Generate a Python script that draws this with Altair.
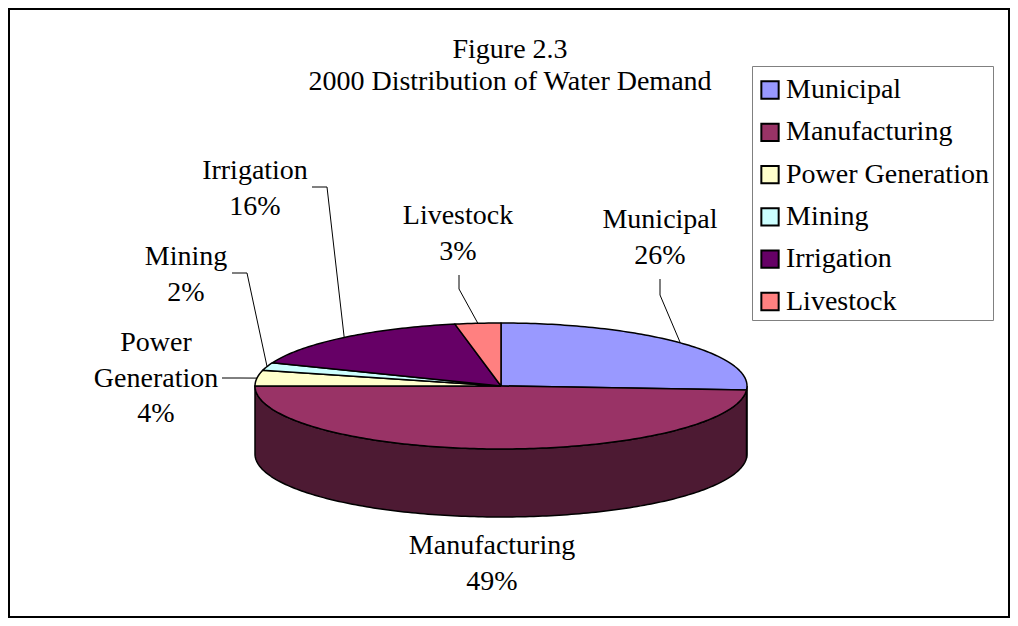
import altair as alt
import numpy as np
import pandas as pd

# ---------------- data ----------------
categories = ["Municipal", "Manufacturing", "Power Generation", "Mining", "Irrigation", "Livestock"]
shares = [26, 49, 4, 2, 16, 3]
top_colors = ["#9999FF", "#993366", "#FFFFCC", "#CCFFFF", "#660066", "#FF8080"]
side_colors = ["#4D4D80", "#4D1A33", "#80806A", "#6A8080", "#330033", "#804040"]
title_lines = ["Figure 2.3", "2000 Distribution of Water Demand"]

# ---------------- layout (page pixels) ----------------
CX, CY, RX, RY, DEPTH = 501, 386, 246, 63, 68
FONT = "Liberation Serif"
FS = 28
LH = 35.5
W, H = 1002, 610
TITLE_X, TITLE_Y, TITLE_LH = 510, 58, 32
label_pos = {  # label centre x, first baseline y
    "Municipal": (660, 228),
    "Manufacturing": (492, 554),
    "Power Generation": (156, 351),
    "Mining": (186, 265),
    "Irrigation": (255, 179),
    "Livestock": (458, 224),
}
leader_route = {  # start and elbow of the leader line; it ends on the slice edge
    "Municipal": [(660, 279), (660, 295)],
    "Power Generation": [(222, 378), (240, 378)],
    "Mining": [(232, 273), (247, 273)],
    "Irrigation": [(312, 187), (327, 187)],
    "Livestock": [(459, 275), (459, 289)],
}


def ell(deg, dz=0.0):
    t = np.radians(deg)
    return float(CX + RX * np.sin(t)), float(CY - RY * np.cos(t) + dz)


def arc(a, b, dz=0.0):
    n = max(2, int(np.ceil(abs(b - a))) + 1)
    return [ell(d, dz) for d in np.linspace(a, b, n)]


total = float(sum(shares))
bounds = np.concatenate([[0.0], np.cumsum(shares)]) * 360.0 / total

top_rows, side_rows, lead_rows, label_rows = [], [], [], []
for i, cat in enumerate(categories):
    a, b = bounds[i], bounds[i + 1]
    pts = [(CX, CY)] + arc(a, b) + [(CX, CY)]
    for k, (x, y) in enumerate(pts):
        top_rows.append(dict(poly=cat, k=k, x=x, y=y, cat=cat))
    s1, s2 = max(a, 90.0), min(b, 270.0)
    if s2 > s1:
        pts = arc(s1, s2) + arc(s2, s1, DEPTH)
        pts.append(pts[0])
        for k, (x, y) in enumerate(pts):
            side_rows.append(dict(poly=cat, k=k, x=x, y=y, fill=side_colors[i]))
    if cat in leader_route:
        pts = leader_route[cat] + [ell((a + b) / 2.0)]
        for k, (x, y) in enumerate(pts):
            lead_rows.append(dict(poly=cat, k=k, x=x, y=y))
    lx, ly = label_pos[cat]
    label_rows.append(dict(x=lx, y=ly, text="\n".join(cat.split(" ") + [f"{shares[i]}%"])))

title_rows = [dict(x=TITLE_X, y=TITLE_Y + j * TITLE_LH, text=t) for j, t in enumerate(title_lines)]

X = alt.X("x:Q", scale=alt.Scale(domain=[8, 8 + W], nice=False, zero=False), axis=None)
Y = alt.Y("y:Q", scale=alt.Scale(domain=[8, 8 + H], nice=False, zero=False, reverse=True), axis=None)

sides = alt.Chart(pd.DataFrame(side_rows)).mark_line(
    filled=True, stroke="black", strokeWidth=1.5, strokeJoin="round"
).encode(x=X, y=Y, order="k:Q", detail="poly:N", color=alt.Color("fill:N", scale=None))

tops = alt.Chart(pd.DataFrame(top_rows)).mark_line(
    filled=True, stroke="black", strokeWidth=1.5, strokeJoin="round"
).encode(
    x=X, y=Y, order="k:Q", detail="poly:N",
    color=alt.Color(
        "cat:N",
        scale=alt.Scale(domain=categories, range=top_colors),
        legend=alt.Legend(
            title=" ", titleFontSize=2, titlePadding=4,
            orient="none", legendX=744, legendY=58,
            symbolType="square", symbolSize=300, symbolStrokeWidth=2,
            symbolStrokeColor="black", symbolOpacity=1,
            labelFont=FONT, labelFontSize=FS, labelColor="black",
            labelOffset=2, rowPadding=14.3, padding=4, labelLimit=400,
            strokeColor="#808080", fillColor="white",
        ),
    ),
)

leaders = alt.Chart(pd.DataFrame(lead_rows)).mark_line(color="black", strokeWidth=1).encode(
    x=X, y=Y, order="k:Q", detail="poly:N"
)

labels = alt.Chart(pd.DataFrame(label_rows)).mark_text(
    font=FONT, fontSize=FS, align="center", baseline="alphabetic", lineBreak="\n", lineHeight=LH, color="black"
).encode(x=X, y=Y, text="text:N")

title = alt.Chart(pd.DataFrame(title_rows)).mark_text(
    font=FONT, fontSize=FS, align="center", baseline="alphabetic", color="black"
).encode(x=X, y=Y, text="text:N")

chart = (
    alt.layer(sides, tops, leaders, labels, title)
    .resolve_scale(color="independent")
    .properties(width=W, height=H, autosize=alt.AutoSizeParams(type="none"), padding=0, background="white")
    .configure_view(stroke="black", strokeWidth=4)
)

chart.save("out.html", embed_options={"renderer": "svg", "actions": False})
